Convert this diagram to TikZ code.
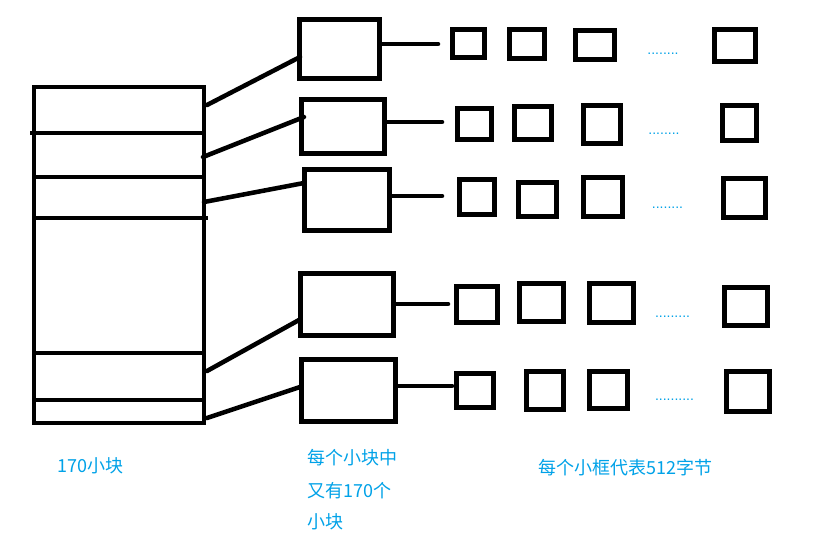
\documentclass[tikz,border=0pt]{standalone}
\usepackage{fontspec}
\newfontfamily\cjk{Noto Sans CJK SC}
\newfontfamily\dotfont{Liberation Sans}
\usetikzlibrary{calc}
\definecolor{paintblue}{RGB}{0,162,232}
\tikzset{
  box/.style={draw=black, line width=3.4pt, rectangle, inner sep=0pt},
  link/.style={draw=black, line width=3.4pt, line cap=round},
  divider/.style={draw=black, line width=3.1pt},
  lbl/.style={text=paintblue, font=\cjk\fontsize{13.5}{16}\selectfont, inner sep=0pt, anchor=west},
  dotrow/.style={text=paintblue, font=\dotfont\fontsize{10.5}{12}\selectfont, inner sep=0pt, anchor=base},
}
% name, outer x1, y1, x2, y2 (pixels)
\newcommand\obox[5]{\node[box, minimum width={(#4-#2-4.5)*0.75pt}, minimum height={(#5-#3-4.5)*0.75pt}] (#1) at ({(#2+#4)/2},{(#3+#5)/2}) {};}
\begin{document}
\begin{tikzpicture}[x=0.75pt,y=-0.75pt]
\useasboundingbox (0,0) rectangle (837,542);
\fill[white] (0,0) rectangle (837,542);

% big block
\node[box, line width=3.1pt, minimum width={(206-32-4.2)*0.75pt}, minimum height={(425-85-4.2)*0.75pt}] (big) at (119,255) {};
\draw[divider] (30,133) -- (204,133);
\draw[divider] (34,177) -- (204,177);
\draw[divider] (34,218) -- (208,218);
\draw[divider] (34,353) -- (204,353);
\draw[divider] (34,400) -- (204,400);

% middle boxes
\obox{m1}{297}{17}{382}{81}
\obox{m2}{299}{97}{387}{156}
\obox{m3}{302}{167}{392}{233}
\obox{m4}{298}{271}{396}{338}
\obox{m5}{299}{357}{398}{424}

% small boxes
\obox{a1}{450}{27}{487}{60}
\obox{a2}{507}{27}{547}{61}
\obox{a3}{573}{28}{617}{62}
\obox{a4}{712}{27}{758}{64}
\obox{b1}{455}{106}{494}{142}
\obox{b2}{512}{104}{554}{142}
\obox{b3}{581}{103}{623}{146}
\obox{b4}{720}{103}{759}{143}
\obox{c1}{457}{177}{497}{217}
\obox{c2}{516}{180}{559}{219}
\obox{c3}{581}{175}{625}{219}
\obox{c4}{721}{176}{768}{220}
\obox{d1}{454}{284}{500}{325}
\obox{d2}{517}{281}{566}{324}
\obox{d3}{587}{281}{636}{325}
\obox{d4}{722}{285}{770}{328}
\obox{e1}{454}{371}{496}{410}
\obox{e2}{524}{369}{566}{412}
\obox{e3}{587}{369}{630}{411}
\obox{e4}{724}{369}{772}{414}

% connectors from big block to middle boxes
\coordinate (s1) at (207,105);
\coordinate (s2) at (203,157);
\coordinate (s3) at (204,202);
\coordinate (s4) at (207,371);
\coordinate (s5) at (207,418);
\draw[link] (s1) -- ($(m1.west)+(3,8)$);
\draw[link] (s2) -- ($(m2.west)+(5,-9.5)$);
\draw[link] (s3) -- ($(m3.west)+(2,-17)$);
\draw[link] (s4) -- ($(m4.west)+(1,15.5)$);
\draw[link] (s5) -- ($(m5.west)+(1,-3.5)$);

% short lines to the right of the middle boxes
\coordinate (r1) at (438,44);
\coordinate (r2) at (442,122);
\coordinate (r3) at (442,196);
\coordinate (r4) at (448,304);
\coordinate (r5) at (452,386);
\draw[link] (m1.east |- r1) -- (r1);
\draw[link] (m2.east |- r2) -- (r2);
\draw[link] (m3.east |- r3) -- (r3);
\draw[link] (m4.east |- r4) -- (r4);
\draw[link] (m5.east |- r5) -- (r5);

% dots
\node[dotrow] (o1) at (663,54.5) {........};
\node[dotrow] (o2) at (664,134.5) {........};
\node[dotrow] (o3) at (667.5,208.5) {........};
\node[dotrow] (o4) at (672.5,317.5) {.........};
\node[dotrow] (o5) at (674.5,400.5) {..........};

% labels
\node[lbl] (t1) at (57,466) {170小块};
\node[lbl] (t2) at (307,458) {每个小块中};
\node[lbl] (t3) at (307,491) {又有170个};
\node[lbl] (t4) at (307,522) {小块};
\node[lbl] (t5) at (538,468) {每个小框代表512字节};
\end{tikzpicture}
\end{document}
